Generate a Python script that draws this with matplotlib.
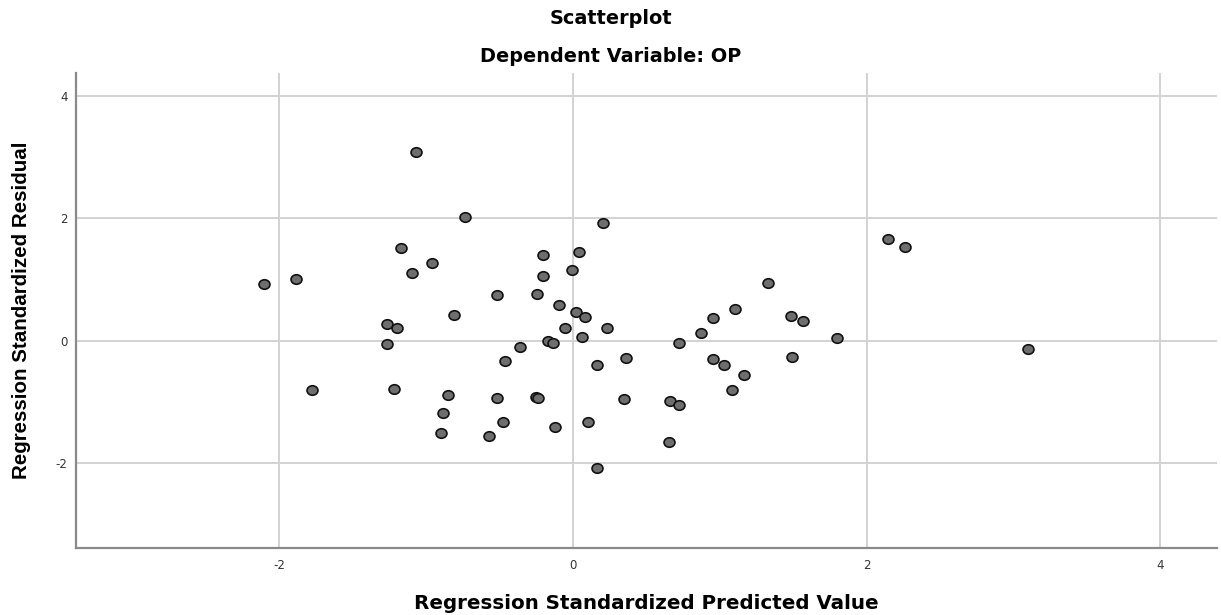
import matplotlib
matplotlib.use("Agg")
import matplotlib.pyplot as plt
from matplotlib.path import Path
from matplotlib.transforms import Affine2D

plt.rcParams['font.family'] = ['DejaVu Sans']
plt.rcParams['axes.unicode_minus'] = False

# standardized predicted values / residuals
pred = [-2.105, -1.887, -1.067, -1.170, -1.099, -1.264, -1.199, -1.264, -1.780, -1.217,
        -0.736, -0.958, -0.208, 0.039, 0.204, -0.007, -0.208, -0.515, -0.245, -0.093,
        -0.811, 0.018, 0.084, -0.057, 0.230, 0.064, -0.170, -0.136, -0.361, 1.326,
        1.106, 0.950, 0.870, 0.720, 1.485, 1.567, 1.494, 0.361, 0.954, 2.146,
        2.257, 1.798, 3.099, -0.463, 0.161, 1.029, 1.161, 1.083, -0.849, -0.885,
        -0.899, -0.520, -0.474, -0.572, -0.254, -0.236, -0.120, 0.102, 0.350, 0.663,
        0.720, 0.655, 0.161]
resid = [0.936, 1.013, 3.088, 1.525, 1.111, 0.278, 0.207, -0.054, -0.800, -0.790,
         2.031, 1.275, 1.405, 1.454, 1.933, 1.160, 1.062, 0.746, 0.768, 0.588,
         0.425, 0.463, 0.381, 0.207, 0.212, 0.065, 0.000, -0.038, -0.103, 0.943,
         0.523, 0.371, 0.126, -0.038, 0.413, 0.322, -0.267, -0.280, -0.300, 1.662,
         1.531, 0.044, -0.142, -0.327, -0.392, -0.403, -0.556, -0.806, -0.888, -1.187,
         -1.509, -0.937, -1.334, -1.558, -0.915, -0.943, -1.416, -1.334, -0.953, -0.980,
         -1.051, -1.650, -2.080]

ticks = [-2, 0, 2, 4]

# the reference is slightly stretched sideways, so the dots are a bit wide
dot = Affine2D().scale(1.15, 1.0).transform_path(Path.unit_circle())

fig = plt.figure(figsize=(12.21, 6.15), dpi=100)
ax = fig.add_axes([76 / 1221, 1 - 548 / 615, (1217 - 76) / 1221, (548 - 73) / 615])

ax.scatter(pred, resid, s=62, marker=dot, c='#6e6e6e', edgecolors='#111111',
           linewidths=1.2, zorder=3)

ax.set_xlim(-3.385, 4.385)
ax.set_ylim(-3.39, 4.38)
ax.set_xticks(ticks)
ax.set_yticks(ticks)
ax.grid(True, color='#d2d2d2', linewidth=1.4, zorder=0)
ax.tick_params(length=0, labelsize=8.5, colors='#333333')
ax.tick_params(axis='x', pad=8)
ax.tick_params(axis='y', pad=6)

for side in ['top', 'right']:
    ax.spines[side].set_visible(False)
for side in ['left', 'bottom']:
    ax.spines[side].set_color('#8a8a8a')
    ax.spines[side].set_linewidth(1.6)

ax.set_xlabel("Regression Standardized Predicted Value", fontsize=14.3, fontweight='bold', labelpad=16)
ax.set_ylabel("Regression Standardized Residual", fontsize=14.8, fontweight='bold',
              family='Liberation Sans', labelpad=18)

fig.text(0.5, 1 - 18 / 615, "Scatterplot", ha='center', va='center', fontsize=13.9, fontweight='bold')
fig.text(0.5, 1 - 56 / 615, "Dependent Variable: OP", ha='center', va='center', fontsize=13.9, fontweight='bold')

plt.savefig("out.png", dpi=100)
